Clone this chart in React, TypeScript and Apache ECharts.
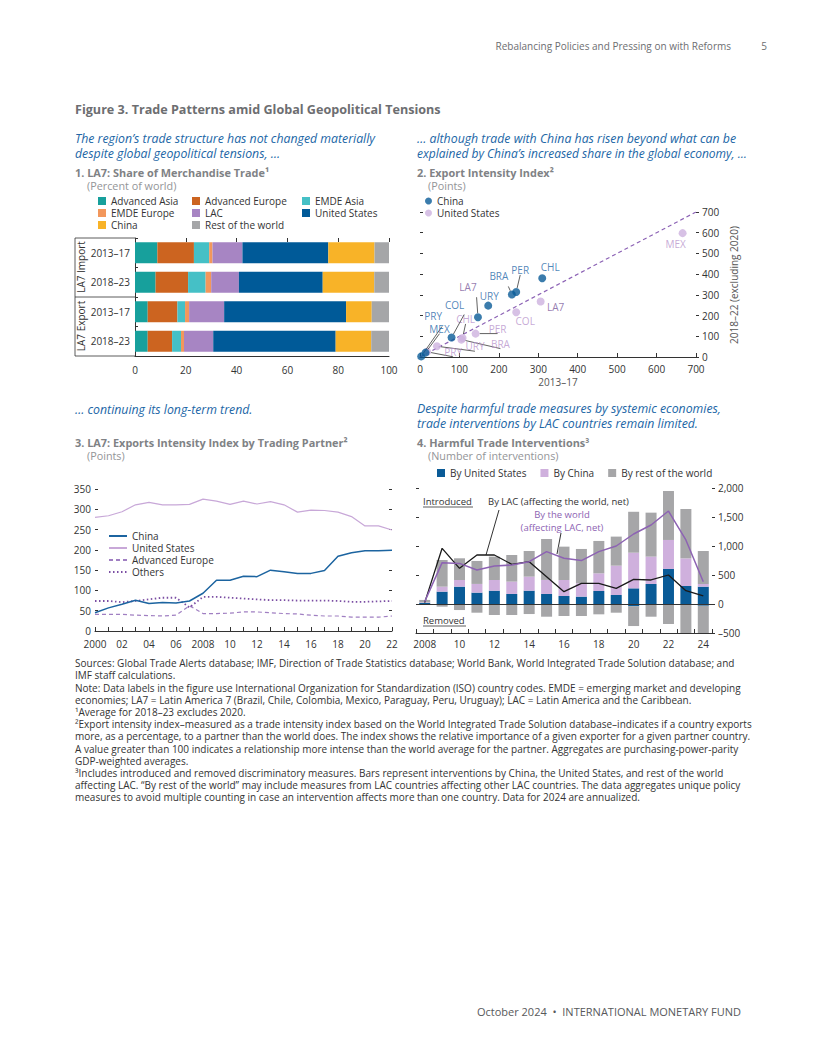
import React, { useEffect, useRef } from 'react';
import * as echarts from 'echarts';

const FONT = '"Open Sans", Lato, "DejaVu Sans", sans-serif';
const INK = '#333333';

// ---------------- Panel 1: LA7 share of merchandise trade (percent of world) ----------------
const P1_CATEGORIES = ['Import 2013–17', 'Import 2018–23', 'Export 2013–17', 'Export 2018–23'];
const P1_NAMES = ['Advanced Asia', 'Advanced Europe', 'EMDE Asia', 'EMDE Europe', 'LAC', 'United States', 'China', 'Rest of the world'];
const P1_ADV_ASIA = [8.8, 8.1, 5.0, 5.0];
const P1_ADV_EUROPE = [14.4, 12.8, 11.7, 9.6];
const P1_EMDE_ASIA = [6.0, 6.9, 3.0, 3.5];
const P1_EMDE_EUROPE = [1.3, 2.2, 1.6, 1.2];
const P1_LAC = [11.8, 10.9, 13.8, 11.5];
const P1_US = [33.8, 33.0, 48.0, 48.2];
const P1_CHINA = [18.2, 20.3, 10.1, 14.0];
const P1_ROW = [5.7, 5.8, 6.8, 7.0];
const P1_VALUES = [P1_ADV_ASIA, P1_ADV_EUROPE, P1_EMDE_ASIA, P1_EMDE_EUROPE, P1_LAC, P1_US, P1_CHINA, P1_ROW];
const P1_COLORS = ['#17a09c', '#cc6420', '#45c0c6', '#f2975c', '#a785c3', '#005a98', '#f8b328', '#a5a6a8'];

// ---------------- Panel 2: Export intensity index ----------------
const P2_CHINA_CODES = ['CHL', 'PER', 'BRA', 'URY', 'LA7', 'COL', 'MEX', 'PRY'];
const P2_CHINA_X = [310, 244, 233, 173, 147, 80, 14, 3];
const P2_CHINA_Y = [380, 314, 302, 248, 192, 94, 21, 3];
const P2_US_CODES = ['MEX', 'LA7', 'COL', 'PER', 'CHL', 'BRA', 'URY', 'PRY'];
const P2_US_X = [666, 306, 244, 141, 108, 105, 43, 18];
const P2_US_Y = [598, 268, 216, 113, 92, 84, 52, 25];
const P2_PARITY = [0, 700];

// label placement (pixels, relative to the point) — layout only
const P2_CHINA_LABELS: Record<string, { dx: number; dy: number; line: boolean; color?: string }> = {
  CHL: { dx: 8, dy: -11, line: false },
  PER: { dx: 4, dy: -22, line: true },
  BRA: { dx: -13, dy: -18, line: true },
  URY: { dx: 1, dy: -10, line: false },
  LA7: { dx: -10, dy: -30, line: true, color: '#7a5a9c' },
  COL: { dx: 3, dy: -33, line: true },
  MEX: { dx: 14, dy: -24, line: true },
  PRY: { dx: 12, dy: -40, line: true },
};
const P2_US_LABELS: Record<string, { dx: number; dy: number; line: boolean; color?: string }> = {
  MEX: { dx: -7, dy: 11, line: false },
  LA7: { dx: 15, dy: 6, line: false, color: '#7a5a9c' },
  COL: { dx: 9, dy: 9, line: false },
  PER: { dx: 22, dy: -5, line: true },
  CHL: { dx: 3, dy: -19, line: true },
  BRA: { dx: 39, dy: 4, line: true },
  URY: { dx: 38, dy: 0, line: true },
  PRY: { dx: 26, dy: 0, line: true },
};

// ---------------- Panel 3: LA7 exports intensity index by partner ----------------
const P3_YEARS = ['2000', '2001', '2002', '2003', '2004', '2005', '2006', '2007', '2008', '2009', '2010', '2011', '2012', '2013', '2014', '2015', '2016', '2017', '2018', '2019', '2020', '2021', '2022'];
const P3_CHINA = [45, 57, 66, 76, 68, 70, 69, 74, 93, 125, 125, 135, 134, 150, 146, 142, 142, 149, 184, 193, 198, 198, 199];
const P3_US = [280, 284, 294, 311, 317, 311, 311, 312, 325, 320, 312, 320, 313, 319, 311, 293, 298, 297, 293, 282, 259, 259, 249];
const P3_ADV_EUROPE = [41, 41, 41, 39, 38, 37, 39, 62, 43, 43, 44, 47, 47, 45, 43, 42, 39, 37, 37, 34, 34, 34, 37];
const P3_OTHERS = [74, 74, 71, 74, 78, 82, 82, 58, 84, 84, 82, 80, 78, 76, 76, 75, 75, 75, 74, 72, 72, 73, 74];

// ---------------- Panel 4: Harmful trade interventions ----------------
const P4_YEARS = ['2008', '2009', '2010', '2011', '2012', '2013', '2014', '2015', '2016', '2017', '2018', '2019', '2020', '2021', '2022', '2023', '2024'];
const P4_US_INTRO = [20, 213, 299, 196, 230, 173, 230, 173, 138, 127, 224, 155, 270, 345, 604, 310, 299];
const P4_CHINA_INTRO = [10, 86, 115, 150, 184, 213, 242, 242, 276, 230, 305, 506, 615, 472, 500, 477, 46];
const P4_ROW_INTRO = [40, 460, 374, 396, 403, 459, 442, 706, 575, 592, 558, 501, 705, 758, 844, 851, 569];
const P4_US_REMOVED = [-2, -5, -5, -5, -5, -5, -5, -5, -5, -5, -5, -5, -40, -10, -10, -15, -30];
const P4_ROW_REMOVED = [-8, -41, -99, -145, -185, -185, -168, -214, -202, -202, -173, -145, -340, -209, -335, -585, -500];
const P4_LAC_NET = [23, 960, 615, 845, 845, 684, 730, 471, 213, 356, 356, 270, 425, 414, 500, 230, 138];
const P4_WORLD_NET = [40, 713, 700, 586, 655, 672, 730, 903, 788, 748, 903, 1000, 1207, 1362, 1603, 1104, 385];

const FOOTNOTES = [
  'Sources: Global Trade Alerts database; IMF, Direction of Trade Statistics database; World Bank, World Integrated Trade Solution database; and',
  'IMF staff calculations.',
  'Note: Data labels in the figure use International Organization for Standardization (ISO) country codes. EMDE = emerging market and developing',
  'economies; LA7 = Latin America 7 (Brazil, Chile, Colombia, Mexico, Paraguay, Peru, Uruguay); LAC = Latin America and the Caribbean.',
  '¹Average for 2018–23 excludes 2020.',
  '²Export intensity index–measured as a trade intensity index based on the World Integrated Trade Solution database–indicates if a country exports',
  'more, as a percentage, to a partner than the world does. The index shows the relative importance of a given exporter for a given partner country.',
  'A value greater than 100 indicates a relationship more intense than the world average for the partner. Aggregates are purchasing-power-parity',
  'GDP-weighted averages.',
  '³Includes introduced and removed discriminatory measures. Bars represent interventions by China, the United States, and rest of the world',
  'affecting LAC. “By rest of the world” may include measures from LAC countries affecting other LAC countries. The data aggregates unique policy',
  'measures to avoid multiple counting in case an intervention affects more than one country. Data for 2024 are annualized.',
];

type TOpts = { size?: number; weight?: string; italic?: boolean; fill?: string; align?: string; va?: string; rot?: number; lh?: number };
function txt(x: number, y: number, text: string, o: TOpts = {}) {
  const size = o.size ?? 10;
  return {
    type: 'text',
    x,
    y,
    rotation: o.rot ?? 0,
    silent: true,
    style: {
      text,
      fill: o.fill ?? INK,
      font: `${o.italic ? 'italic ' : ''}${o.weight ?? 'normal'} ${size}px ${FONT}`,
      align: o.align ?? 'left',
      verticalAlign: o.va ?? 'middle',
      lineHeight: o.lh,
    },
  };
}
function ln(x1: number, y1: number, x2: number, y2: number, color = INK, width = 0.8) {
  return { type: 'line', silent: true, shape: { x1, y1, x2, y2 }, style: { stroke: color, lineWidth: width } };
}

const BLUE_TXT = '#2166a6';
const TITLE_GRAY = '#6d6e71';
const PANEL_GRAY = '#808285';
const UNIT_GRAY = '#939598';
const SUB = 12.3;
const PT = 10.9;
const UT = 10.8;

function twoDigit(v: string) {
  return v === P3_YEARS[0] || v === P4_YEARS[0] ? v : v.slice(2);
}

function buildOption(): any {
  const axisLabel = { color: INK, fontSize: 10, fontFamily: FONT };

  const p1Series = P1_NAMES.map((name, i) => ({
    name,
    type: 'bar',
    stack: 'p1',
    xAxisIndex: 0,
    yAxisIndex: 0,
    barWidth: 21,
    itemStyle: { color: P1_COLORS[i] },
    data: P1_VALUES[i],
    silent: true,
  }));

  const chinaData = P2_CHINA_CODES.map((code, i) => {
    const l = P2_CHINA_LABELS[code];
    const label: any = { offset: [l.dx, l.dy] };
    if (l.color) label.color = l.color;
    return { name: code, value: [P2_CHINA_X[i], P2_CHINA_Y[i]], label, labelLine: { show: l.line } };
  });
  const usData = P2_US_CODES.map((code, i) => {
    const l = P2_US_LABELS[code];
    const label: any = { offset: [l.dx, l.dy] };
    if (l.color) label.color = l.color;
    return { name: code, value: [P2_US_X[i], P2_US_Y[i]], label, labelLine: { show: l.line } };
  });

  const scatterCommon = {
    type: 'scatter',
    xAxisIndex: 2,
    yAxisIndex: 2,
    symbolSize: 8,
    silent: true,
    labelLine: { lineStyle: { color: '#3a3a3a', width: 0.8 } },
  };

  const p4Bar = (name: string, data: number[], color: string) => ({
    name,
    type: 'bar',
    stack: 'p4',
    xAxisIndex: 4,
    yAxisIndex: 5,
    barWidth: 11,
    clip: true,
    itemStyle: { color },
    data,
    silent: true,
  });

  const graphics: any[] = [
    // header
    txt(731, 46, 'Rebalancing Policies and Pressing on with Reforms', { size: 10, fill: TITLE_GRAY, align: 'right' }),
    txt(764, 46, '5', { size: 10, fill: TITLE_GRAY, align: 'center' }),
    // figure title
    txt(75, 109, 'Figure 3. Trade Patterns amid Global Geopolitical Tensions', { size: 12.6, weight: 'bold', fill: TITLE_GRAY }),
    // subtitles
    txt(75, 138, 'The region’s trade structure has not changed materially', { size: SUB, italic: true, fill: BLUE_TXT }),
    txt(75, 153, 'despite global geopolitical tensions, …', { size: SUB, italic: true, fill: BLUE_TXT }),
    txt(417, 138, '… although trade with China has risen beyond what can be', { size: SUB, italic: true, fill: BLUE_TXT }),
    txt(417, 153, 'explained by China’s increased share in the global economy, …', { size: 12, italic: true, fill: BLUE_TXT }),
    txt(75, 409, '… continuing its long-term trend.', { size: SUB, italic: true, fill: BLUE_TXT }),
    txt(417, 408.5, 'Despite harmful trade measures by systemic economies,', { size: SUB, italic: true, fill: BLUE_TXT }),
    txt(417, 423.5, 'trade interventions by LAC countries remain limited.', { size: SUB, italic: true, fill: BLUE_TXT }),
    // panel titles
    txt(75, 172, '1. LA7: Share of Merchandise Trade¹', { size: PT, weight: 'bold', fill: PANEL_GRAY, lh: 11 }),
    txt(87, 185.5, '(Percent of world)', { size: UT, fill: UNIT_GRAY, lh: 11 }),
    txt(417, 172, '2. Export Intensity Index²', { size: PT, weight: 'bold', fill: PANEL_GRAY, lh: 11 }),
    txt(428, 185.5, '(Points)', { size: UT, fill: UNIT_GRAY, lh: 11 }),
    txt(75, 442, '3. LA7: Exports Intensity Index by Trading Partner²', { size: PT, weight: 'bold', fill: PANEL_GRAY, lh: 11 }),
    txt(87, 455.5, '(Points)', { size: UT, fill: UNIT_GRAY, lh: 11 }),
    txt(417, 442, '4. Harmful Trade Interventions³', { size: PT, weight: 'bold', fill: PANEL_GRAY, lh: 11 }),
    txt(428, 455.5, '(Number of interventions)', { size: UT, fill: UNIT_GRAY, lh: 11 }),
    // panel 1 group labels
    txt(81, 267, 'LA7 Import', { size: 10, rot: Math.PI / 2, align: 'center' }),
    txt(81, 326, 'LA7 Export', { size: 10, rot: Math.PI / 2, align: 'center' }),
    ln(75, 238, 135, 238),
    ln(75, 297, 135, 297),
    ln(75, 356, 135, 356),
    ln(75, 238, 75, 356),
    // panel 2 right axis title
    txt(734, 285, '2018–22 (excluding 2020)', { size: 10, rot: Math.PI / 2, align: 'center', fill: '#555' }),
    // panel 4 annotations
    txt(423, 501, 'Introduced', { size: 9.5 }),
    ln(423, 507, 473, 507, INK, 0.8),
    txt(423, 620, 'Removed', { size: 9.5 }),
    ln(423, 626, 466, 626, INK, 0.8),
    txt(488, 501, 'By LAC (affecting the world, net)', { size: 9.5 }),
    ln(499, 510, 486, 555, '#1a1a1a', 0.9),
    txt(562, 521, 'By the world\n(affecting LAC, net)', { size: 9.5, align: 'center', fill: '#8d63b3', lh: 13 }),
    ln(561, 533, 557, 554, '#1a1a1a', 0.9),
    // footnotes
    txt(75, 657, FOOTNOTES.join('\n'), { size: 10, va: 'top', lh: 12.2 }),
    // footer
    txt(741, 1011, 'October 2024  •  INTERNATIONAL MONETARY FUND', { size: 11, align: 'right', fill: '#58595b' }),
  ];

  const legendText = { color: INK, fontSize: 10, fontFamily: FONT, lineHeight: 12 };
  const legendBase = { padding: 0, selectedMode: false, textStyle: legendText, itemGap: 0 };

  return {
    animation: false,
    backgroundColor: '#ffffff',
    textStyle: { fontFamily: FONT },
    graphic: { elements: graphics },
    legend: [
      { ...legendBase, left: 98, top: 195, orient: 'vertical', icon: 'rect', itemWidth: 8, itemHeight: 8, data: ['Advanced Asia', 'EMDE Europe', 'China'] },
      { ...legendBase, left: 192, top: 195, orient: 'vertical', icon: 'rect', itemWidth: 8, itemHeight: 8, data: ['Advanced Europe', 'LAC', 'Rest of the world'] },
      { ...legendBase, left: 302, top: 195, orient: 'vertical', icon: 'rect', itemWidth: 8, itemHeight: 8, data: ['EMDE Asia', 'United States'] },
      { ...legendBase, left: 425, top: 195, orient: 'vertical', icon: 'circle', itemWidth: 7, itemHeight: 7, data: ['China ', 'United States '] },
      { ...legendBase, left: 108, top: 530, orient: 'vertical', itemWidth: 18, itemHeight: 8, itemStyle: { opacity: 0 }, data: ['China  ', 'United States  ', 'Advanced Europe  ', 'Others'] },
      { ...legendBase, left: 437, top: 467, orient: 'horizontal', icon: 'rect', itemWidth: 8, itemHeight: 8, itemGap: 14, data: ['By United States', 'By China', 'By rest of the world'] },
    ],
    grid: [
      { left: 135, top: 238, width: 254, height: 118 },
      { left: 420, top: 212, width: 276, height: 145 },
      { left: 95, top: 489, width: 297, height: 142 },
      { left: 416, top: 488, width: 296, height: 145 },
    ],
    xAxis: [
      { gridIndex: 0, type: 'value', min: 0, max: 100, interval: 20, axisLine: { show: true, lineStyle: { color: INK } }, axisTick: { show: false }, splitLine: { show: false }, axisLabel: { ...axisLabel, margin: 9 } },
      { gridIndex: 0, type: 'value', position: 'top', min: 0, max: 100, interval: 20, axisLine: { show: false }, axisTick: { show: true, inside: true, length: 4, lineStyle: { color: INK } }, splitLine: { show: false }, axisLabel: { show: false } },
      { gridIndex: 1, type: 'value', min: 0, max: 700, interval: 100, axisLine: { show: true, lineStyle: { color: INK } }, axisTick: { show: true, inside: true, length: 4, lineStyle: { color: INK } }, splitLine: { show: false }, axisLabel: { ...axisLabel, margin: 7 }, name: '2013–17', nameLocation: 'middle', nameGap: 20, nameTextStyle: { color: '#555', fontSize: 10, fontFamily: FONT } },
      { gridIndex: 2, type: 'category', data: P3_YEARS, boundaryGap: false, axisLine: { show: true, onZero: false, lineStyle: { color: INK } }, axisTick: { show: true, inside: true, length: 4, interval: 0, lineStyle: { color: INK } }, axisLabel: { ...axisLabel, interval: 1, margin: 8, formatter: twoDigit } },
      { gridIndex: 3, type: 'category', data: P4_YEARS, boundaryGap: true, axisLine: { show: true, onZero: false, lineStyle: { color: INK } }, axisTick: { show: true, inside: true, length: 4, interval: 0, lineStyle: { color: INK } }, axisLabel: { ...axisLabel, interval: 1, margin: 6, formatter: twoDigit } },
    ],
    yAxis: [
      { gridIndex: 0, type: 'category', inverse: true, data: P1_CATEGORIES, axisLine: { show: true, lineStyle: { color: INK } }, axisTick: { show: true, inside: true, length: 3, lineStyle: { color: INK } }, axisLabel: { ...axisLabel, margin: 5, formatter: (v: string) => v.split(' ')[1] } },
      { gridIndex: 1, type: 'value', position: 'left', min: 0, max: 700, interval: 100, axisLine: { show: false }, axisTick: { show: true, inside: true, length: 3, lineStyle: { color: INK } }, axisLabel: { show: false }, splitLine: { show: false } },
      { gridIndex: 1, type: 'value', position: 'right', min: 0, max: 700, interval: 100, axisLine: { show: false }, axisTick: { show: true, length: 3, lineStyle: { color: INK } }, axisLabel: { ...axisLabel, margin: 6 }, splitLine: { show: false } },
      { gridIndex: 2, type: 'value', position: 'left', min: 0, max: 350, interval: 50, axisLine: { show: false }, axisTick: { show: true, inside: true, length: 3, lineStyle: { color: INK } }, axisLabel: { ...axisLabel, margin: 4 }, splitLine: { show: false } },
      { gridIndex: 2, type: 'value', position: 'right', min: 0, max: 350, interval: 50, axisLine: { show: false }, axisTick: { show: true, inside: true, length: 3, lineStyle: { color: INK } }, axisLabel: { show: false }, splitLine: { show: false } },
      { gridIndex: 3, type: 'value', position: 'right', min: -500, max: 2000, interval: 500, axisLine: { show: false }, axisTick: { show: true, length: 3, lineStyle: { color: INK } }, axisLabel: { ...axisLabel, margin: 6, formatter: (v: number) => (v < 0 ? '–' + Math.abs(v) : v.toLocaleString('en-US')) }, splitLine: { show: false } },
      { gridIndex: 3, type: 'value', position: 'left', min: -500, max: 2000, interval: 500, axisLine: { show: false }, axisTick: { show: true, inside: true, length: 3, lineStyle: { color: INK } }, axisLabel: { show: false }, splitLine: { show: false } },
    ],
    series: [
      ...p1Series,
      // panel 2
      {
        name: 'parity',
        type: 'line',
        xAxisIndex: 2,
        yAxisIndex: 2,
        data: [[P2_PARITY[0], P2_PARITY[0]], [P2_PARITY[1], P2_PARITY[1]]],
        symbol: 'none',
        silent: true,
        lineStyle: { color: '#8c62b5', width: 1.2, type: [4, 3] },
        z: 1,
      },
      {
        ...scatterCommon,
        name: 'United States ',
        itemStyle: { color: '#cdb1df' },
        label: { show: true, position: 'inside', formatter: '{b}', color: '#b894cc', fontSize: 10, fontFamily: FONT },
        data: usData,
        z: 2,
      },
      {
        ...scatterCommon,
        name: 'China ',
        itemStyle: { color: '#0a5b97' },
        label: { show: true, position: 'inside', formatter: '{b}', color: '#1f68a8', fontSize: 10, fontFamily: FONT },
        data: chinaData,
        z: 3,
      },
      // panel 3
      { name: 'China  ', type: 'line', xAxisIndex: 3, yAxisIndex: 3, data: P3_CHINA, symbol: 'none', silent: true, lineStyle: { color: '#1c64a0', width: 1.5 }, itemStyle: { color: '#1c64a0' }, z: 5 },
      { name: 'United States  ', type: 'line', xAxisIndex: 3, yAxisIndex: 3, data: P3_US, symbol: 'none', silent: true, lineStyle: { color: '#c8a8d8', width: 1.2 }, itemStyle: { color: '#c8a8d8' } },
      { name: 'Advanced Europe  ', type: 'line', xAxisIndex: 3, yAxisIndex: 3, data: P3_ADV_EUROPE, symbol: 'none', silent: true, lineStyle: { color: '#a07fc2', width: 1.2, type: [4, 3] }, itemStyle: { color: '#a07fc2' } },
      { name: 'Others', type: 'line', xAxisIndex: 3, yAxisIndex: 3, data: P3_OTHERS, symbol: 'none', silent: true, lineStyle: { color: '#7b4ea3', width: 1.8, type: [1.5, 2.5] }, itemStyle: { color: '#7b4ea3' } },
      // panel 4
      {
        ...p4Bar('By United States', P4_US_INTRO, '#0a5b97'),
        markLine: { silent: true, symbol: 'none', label: { show: false }, lineStyle: { color: INK, width: 1, type: 'solid' }, data: [{ yAxis: 0 }] },
      },
      p4Bar('By China', P4_CHINA_INTRO, '#cfb0dd'),
      p4Bar('By rest of the world', P4_ROW_INTRO, '#a6a6a8'),
      p4Bar('By United States', P4_US_REMOVED, '#0a5b97'),
      p4Bar('By rest of the world', P4_ROW_REMOVED, '#a6a6a8'),
      { name: 'By LAC (affecting the world, net)', type: 'line', xAxisIndex: 4, yAxisIndex: 5, data: P4_LAC_NET, symbol: 'none', silent: true, lineStyle: { color: '#1a1a1a', width: 1.3 }, z: 6 },
      { name: 'By the world (affecting LAC, net)', type: 'line', xAxisIndex: 4, yAxisIndex: 5, data: P4_WORLD_NET, symbol: 'none', silent: true, lineStyle: { color: '#8d63b3', width: 1.5 }, z: 6 },
    ],
  };
}

export default function App() {
  const ref = useRef<HTMLDivElement>(null);
  useEffect(() => {
    if (!ref.current) return;
    const chart = echarts.init(ref.current, null, { renderer: 'svg', width: 816, height: 1056 });
    chart.setOption(buildOption());
    return () => chart.dispose();
  }, []);
  return (
    <div
      ref={ref}
      style={{ position: 'absolute', left: 0, top: 0, width: 816, height: 1056, background: '#ffffff' }}
    />
  );
}
